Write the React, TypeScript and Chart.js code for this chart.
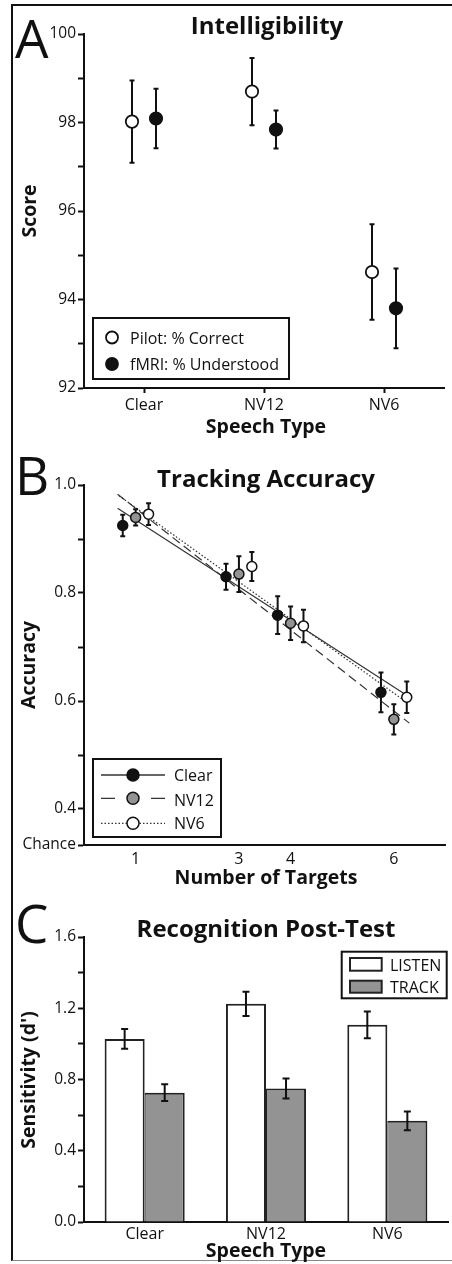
import React, { useEffect, useRef } from "react";
import { Chart, registerables } from "chart.js";

Chart.register(...registerables);

const FONT = "'Open Sans', 'Noto Sans', sans-serif";
const INK = "#111111";
const GRAY = "#939393";
const LINE = "#333333";

// ---------- Panel A: Intelligibility ----------
const speechTypes = ["Clear", "NV12", "NV6"];
const pilotScore = [98.02, 98.7, 94.62];
const pilotErr = [0.93, 0.76, 1.08];
const fmriScore = [98.09, 97.84, 93.8];
const fmriErr = [0.67, 0.43, 0.9];
const scoreTicks = [92, 93, 94, 95, 96, 97, 98, 99, 100];

// ---------- Panel B: Tracking Accuracy ----------
const targetCounts = [1, 3, 4, 6];
const clearAcc = [0.925, 0.83, 0.759, 0.616];
const clearAccErr = [0.02, 0.024, 0.035, 0.037];
const nv12Acc = [0.94, 0.835, 0.744, 0.566];
const nv12AccErr = [0.015, 0.033, 0.031, 0.028];
const nv6Acc = [0.946, 0.849, 0.739, 0.607];
const nv6AccErr = [0.02, 0.027, 0.03, 0.029];
const clearFitX = [0.65, 6.24];
const clearFitY = [0.957, 0.611];
const nv12FitX = [0.65, 6.3];
const nv12FitY = [0.983, 0.559];
const nv6FitX = [0.68, 6.27];
const nv6FitY = [0.98, 0.596];
const CHANCE = 1 / 3;
const accuracyTicks = [CHANCE, 0.4, 0.5, 0.6, 0.7, 0.8, 0.9, 1.0];
const targetTicks = [1, 3, 4, 6];

// ---------- Panel C: Recognition Post-Test ----------
const listenDprime = [1.028, 1.225, 1.107];
const listenErr = [0.056, 0.068, 0.075];
const trackDprime = [0.726, 0.75, 0.568];
const trackErr = [0.047, 0.056, 0.053];
const dprimeTicks = [0, 0.2, 0.4, 0.6, 0.8, 1.0, 1.2, 1.4, 1.6];

const f = (size: number, weight = 400) => `${weight} ${size}px ${FONT}`;
const TITLE = f(24, 700);
const AXT = f(19.5, 700);

function drawText(ctx: CanvasRenderingContext2D, s: string, x: number, y: number, font: string, align: CanvasTextAlign = "center", baseline: CanvasTextBaseline = "alphabetic", rot = 0) {
  ctx.save();
  ctx.font = font;
  ctx.fillStyle = INK;
  ctx.textAlign = align;
  ctx.textBaseline = baseline;
  ctx.translate(x, y);
  if (rot) ctx.rotate(rot);
  ctx.fillText(s, 0, 0);
  ctx.restore();
}

function drawErrors(chart: any, dsIndex: number, capHalf: number, lw: number) {
  const ds = chart.data.datasets[dsIndex];
  if (!ds || !ds.errors) return;
  const meta = chart.getDatasetMeta(dsIndex);
  const ys = chart.scales[meta.yAxisID];
  const ctx = chart.ctx as CanvasRenderingContext2D;
  ctx.save();
  ctx.strokeStyle = INK;
  ctx.lineWidth = lw;
  meta.data.forEach((el: any, i: number) => {
    const raw = ds.data[i];
    const v = typeof raw === "number" ? raw : raw.y;
    const e = ds.errors[i];
    const top = ys.getPixelForValue(v + e);
    const bot = ys.getPixelForValue(v - e);
    const x = el.x;
    ctx.beginPath();
    ctx.moveTo(x, top);
    ctx.lineTo(x, bot);
    ctx.moveTo(x - capHalf, top);
    ctx.lineTo(x + capHalf, top);
    ctx.moveTo(x - capHalf, bot);
    ctx.lineTo(x + capHalf, bot);
    ctx.stroke();
  });
  ctx.restore();
}

function yAxis(min: number, max: number, ticksArr: number[], label: (v: number) => string) {
  return {
    type: "linear",
    min,
    max,
    afterFit: (s: any) => {
      s.width = 84;
    },
    afterBuildTicks: (s: any) => {
      s.ticks = ticksArr.map((v) => ({ value: v }));
    },
    ticks: {
      callback: (v: any) => label(Number(v)),
      font: { family: FONT, size: 15.5 },
      color: INK,
      padding: 2,
      autoSkip: false,
    },
    grid: { display: true, drawOnChartArea: false, drawTicks: true, tickLength: 6, tickWidth: 2, tickColor: INK },
    border: { display: true, color: INK, width: 2 },
  };
}

function Panel({ top, height, config }: { top: number; height: number; config: () => any }) {
  const ref = useRef<HTMLCanvasElement>(null);
  useEffect(() => {
    const chart = new Chart(ref.current as HTMLCanvasElement, config());
    return () => chart.destroy();
  }, []);
  return (
    <canvas
      ref={ref}
      width={452}
      height={height}
      style={{ position: "absolute", left: 0, top, width: 452, height }}
    />
  );
}

const baseOptions = (padTop: number) => ({
  responsive: false,
  animation: false,
  devicePixelRatio: 1,
  events: [],
  layout: { padding: { top: padTop, right: 4, left: 0, bottom: 0 } },
  plugins: { legend: { display: false }, tooltip: { enabled: false }, title: { display: false } },
});

// ---------- configs ----------
const DODGE_A = 0.1;
const configA = () => ({
  type: "scatter",
  data: {
    datasets: [
      {
        label: "Pilot: % Correct",
        data: pilotScore.map((v, i) => ({ x: i - DODGE_A, y: v })),
        errors: pilotErr,
        pointRadius: 6.2,
        pointBorderWidth: 1.8,
        pointBackgroundColor: "#ffffff",
        pointBorderColor: INK,
      },
      {
        label: "fMRI: % Understood",
        data: fmriScore.map((v, i) => ({ x: i + DODGE_A, y: v })),
        errors: fmriErr,
        pointRadius: 6.2,
        pointBorderWidth: 1.8,
        pointBackgroundColor: INK,
        pointBorderColor: INK,
      },
    ],
  },
  options: {
    ...baseOptions(34),
    scales: {
      x: {
        type: "linear",
        min: -0.5,
        max: 2.5,
        afterFit: (s: any) => {
          s.height = 62;
        },
        afterBuildTicks: (s: any) => {
          s.ticks = speechTypes.map((_, i) => ({ value: i }));
        },
        ticks: {
          callback: (v: any) => speechTypes[Math.round(Number(v))] ?? "",
          font: { family: FONT, size: 16 },
          color: INK,
          padding: 3,
          autoSkip: false,
          maxRotation: 0,
        },
        grid: { display: true, drawOnChartArea: false, drawTicks: true, tickLength: 5, tickWidth: 2, tickColor: INK },
        border: { display: true, color: INK, width: 2 },
      },
      y: yAxis(92, 100, scoreTicks, (v) => (v % 2 === 0 ? String(v) : "")),
    },
  },
  plugins: [
    {
      id: "errA",
      beforeDatasetDraw: (chart: any, args: any) => drawErrors(chart, args.index, 2.5, 2),
    },
    {
      id: "decorA",
      afterDraw: (chart: any) => {
        const ctx = chart.ctx as CanvasRenderingContext2D;
        drawText(ctx, "A", 15, 58, f(53, 400), "left");
        drawText(ctx, "Intelligibility", 267, 34, TITLE);
        drawText(ctx, "Score", 30, 211, AXT, "center", "middle", -Math.PI / 2);
        drawText(ctx, "Speech Type", 266, 433, AXT);
        // legend
        ctx.save();
        ctx.fillStyle = "#fff";
        ctx.fillRect(93, 318, 196, 61);
        ctx.strokeStyle = INK;
        ctx.lineWidth = 2;
        ctx.strokeRect(93, 318, 196, 61);
        ctx.lineWidth = 1.8;
        ctx.beginPath();
        ctx.arc(112, 337.5, 6, 0, Math.PI * 2);
        ctx.fillStyle = "#fff";
        ctx.fill();
        ctx.stroke();
        ctx.beginPath();
        ctx.arc(112, 364, 6, 0, Math.PI * 2);
        ctx.fillStyle = INK;
        ctx.fill();
        ctx.stroke();
        ctx.restore();
        drawText(ctx, "Pilot: % Correct", 130, 344, f(16), "left");
        drawText(ctx, "fMRI: % Understood", 130, 370, f(16), "left");
      },
    },
  ],
});

const DODGE_B = [-0.25, 0, 0.25];
const configB = () => {
  const fit = (xs: number[], ys: number[], dash: number[]) => ({
    data: xs.map((x, i) => ({ x, y: ys[i] })),
    showLine: true,
    borderColor: LINE,
    borderWidth: 1.2,
    borderDash: dash,
    pointRadius: 0,
    order: 3,
  });
  const pts = (label: string, vals: number[], errs: number[], k: number, fill: string) => ({
    label,
    data: vals.map((v, i) => ({ x: targetCounts[i] + DODGE_B[k], y: v })),
    errors: errs,
    pointRadius: 5,
    pointBorderWidth: 1.5,
    pointBackgroundColor: fill,
    pointBorderColor: INK,
    order: 1,
  });
  return {
    type: "scatter",
    data: {
      datasets: [
        fit(clearFitX, clearFitY, []),
        fit(nv12FitX, nv12FitY, [9, 5]),
        fit(nv6FitX, nv6FitY, [1.5, 2]),
        pts("Clear", clearAcc, clearAccErr, 0, INK),
        pts("NV12", nv12Acc, nv12AccErr, 1, GRAY),
        pts("NV6", nv6Acc, nv6AccErr, 2, "#ffffff"),
      ],
    },
    options: {
      ...baseOptions(35),
      scales: {
        x: {
          type: "linear",
          min: 0,
          max: 7,
          afterFit: (s: any) => {
            s.height = 45;
          },
          afterBuildTicks: (s: any) => {
            s.ticks = targetTicks.map((v) => ({ value: v }));
          },
          ticks: {
            callback: (v: any) => String(v),
            font: { family: FONT, size: 16 },
            color: INK,
            padding: 5,
            autoSkip: false,
            maxRotation: 0,
          },
          grid: { display: false, drawTicks: false },
          border: { display: true, color: INK, width: 2 },
        },
        y: yAxis(CHANCE, 1.0, accuracyTicks, (v) =>
          Math.abs(v - CHANCE) < 1e-6 ? "Chance" : Math.round(v * 10) % 2 === 0 ? v.toFixed(1) : ""
        ),
      },
    },
    plugins: [
      {
        id: "errB",
        beforeDatasetDraw: (chart: any, args: any) => drawErrors(chart, args.index, 2.5, 2),
      },
      {
        id: "decorB",
        afterDraw: (chart: any) => {
          const ctx = chart.ctx as CanvasRenderingContext2D;
          drawText(ctx, "B", 15, 45, f(53, 400), "left");
          drawText(ctx, "Tracking Accuracy", 266, 37, TITLE);
          drawText(ctx, "Accuracy", 29, 215, AXT, "center", "middle", -Math.PI / 2);
          drawText(ctx, "Number of Targets", 266, 434, AXT);
          ctx.save();
          ctx.fillStyle = "#fff";
          ctx.fillRect(93, 309, 128, 78);
          ctx.strokeStyle = INK;
          ctx.lineWidth = 2;
          ctx.strokeRect(93, 309, 128, 78);
          const rows = [
            { y: 325, fill: INK, kind: "solid" },
            { y: 348.3, fill: GRAY, kind: "dash" },
            { y: 373.3, fill: "#ffffff", kind: "dot" },
          ];
          rows.forEach((r) => {
            ctx.strokeStyle = LINE;
            ctx.lineWidth = 1.3;
            ctx.beginPath();
            if (r.kind === "solid") {
              ctx.setLineDash([]);
              ctx.moveTo(101, r.y);
              ctx.lineTo(165, r.y);
            } else if (r.kind === "dash") {
              ctx.setLineDash([]);
              ctx.moveTo(101, r.y);
              ctx.lineTo(115, r.y);
              ctx.moveTo(151, r.y);
              ctx.lineTo(165, r.y);
            } else {
              ctx.setLineDash([1.5, 2]);
              ctx.moveTo(101, r.y);
              ctx.lineTo(165, r.y);
            }
            ctx.stroke();
            ctx.setLineDash([]);
            ctx.beginPath();
            ctx.arc(133, r.y, 6, 0, Math.PI * 2);
            ctx.fillStyle = r.fill;
            ctx.fill();
            ctx.strokeStyle = INK;
            ctx.lineWidth = 1.5;
            ctx.stroke();
          });
          ctx.restore();
          drawText(ctx, "Clear", 174, 330.7, f(16), "left");
          drawText(ctx, "NV12", 174, 355.7, f(16), "left");
          drawText(ctx, "NV6", 174, 379.3, f(16), "left");
        },
      },
    ],
  };
};

const configC = () => ({
  type: "bar",
  data: {
    labels: speechTypes,
    datasets: [
      {
        label: "LISTEN",
        data: listenDprime,
        errors: listenErr,
        backgroundColor: "#ffffff",
        borderColor: "#222222",
        borderWidth: { top: 2, left: 2, right: 2, bottom: 0 },
        categoryPercentage: 0.66,
        barPercentage: 1,
      },
      {
        label: "TRACK",
        data: trackDprime,
        errors: trackErr,
        backgroundColor: GRAY,
        borderColor: "#222222",
        borderWidth: { top: 2, left: 1, right: 2, bottom: 0 },
        categoryPercentage: 0.66,
        barPercentage: 1,
      },
    ],
  },
  options: {
    ...baseOptions(47),
    scales: {
      x: {
        type: "category",
        afterFit: (s: any) => {
          s.height = 42;
        },
        ticks: {
          font: { family: FONT, size: 16 },
          color: INK,
          padding: 3,
          maxRotation: 0,
        },
        grid: { display: false, drawTicks: false },
        border: { display: true, color: INK, width: 2 },
      },
      y: yAxis(0, 1.6, dprimeTicks, (v) => (Math.round(v * 10) % 4 === 0 ? v.toFixed(1) : "")),
    },
  },
  plugins: [
    {
      id: "errC",
      afterDatasetsDraw: (chart: any) => {
        chart.data.datasets.forEach((_: any, i: number) => drawErrors(chart, i, 3.5, 2));
      },
    },
    {
      id: "decorC",
      afterDraw: (chart: any) => {
        const ctx = chart.ctx as CanvasRenderingContext2D;
        drawText(ctx, "C", 15, 53, f(53, 400), "left");
        drawText(ctx, "Recognition Post-Test", 266, 47, TITLE);
        drawText(ctx, "Sensitivity (d')", 29, 190, AXT, "center", "middle", -Math.PI / 2);
        drawText(ctx, "Speech Type", 266, 367, AXT);
        ctx.save();
        ctx.fillStyle = "#fff";
        ctx.fillRect(341.7, 61.7, 105, 46.6);
        ctx.strokeStyle = INK;
        ctx.lineWidth = 2;
        ctx.strokeRect(341.7, 61.7, 105, 46.6);
        ctx.strokeStyle = "#222";
        ctx.fillStyle = "#fff";
        ctx.fillRect(350, 68, 31.7, 12.7);
        ctx.strokeRect(350, 68, 31.7, 12.7);
        ctx.fillStyle = GRAY;
        ctx.fillRect(350, 90.7, 31.7, 12);
        ctx.strokeRect(350, 90.7, 31.7, 12);
        ctx.restore();
        drawText(ctx, "LISTEN", 390, 80.7, f(16), "left");
        drawText(ctx, "TRACK", 390, 102.7, f(16), "left");
      },
    },
  ],
});

export default function App() {
  return (
    <div style={{ position: "absolute", left: 0, top: 0, width: 452, height: 1264, background: "#fff", overflow: "hidden" }}>
      <div
        style={{
          position: "absolute",
          left: 11,
          top: 4,
          width: 460,
          height: 1257,
          borderLeft: "2px solid #111",
          borderTop: "2px solid #111",
          borderBottom: "1px solid #888",
          boxSizing: "border-box",
        }}
      />
      <Panel top={0} height={450} config={configA} />
      <Panel top={450} height={440} config={configB} />
      <Panel top={890} height={374} config={configC} />
    </div>
  );
}
